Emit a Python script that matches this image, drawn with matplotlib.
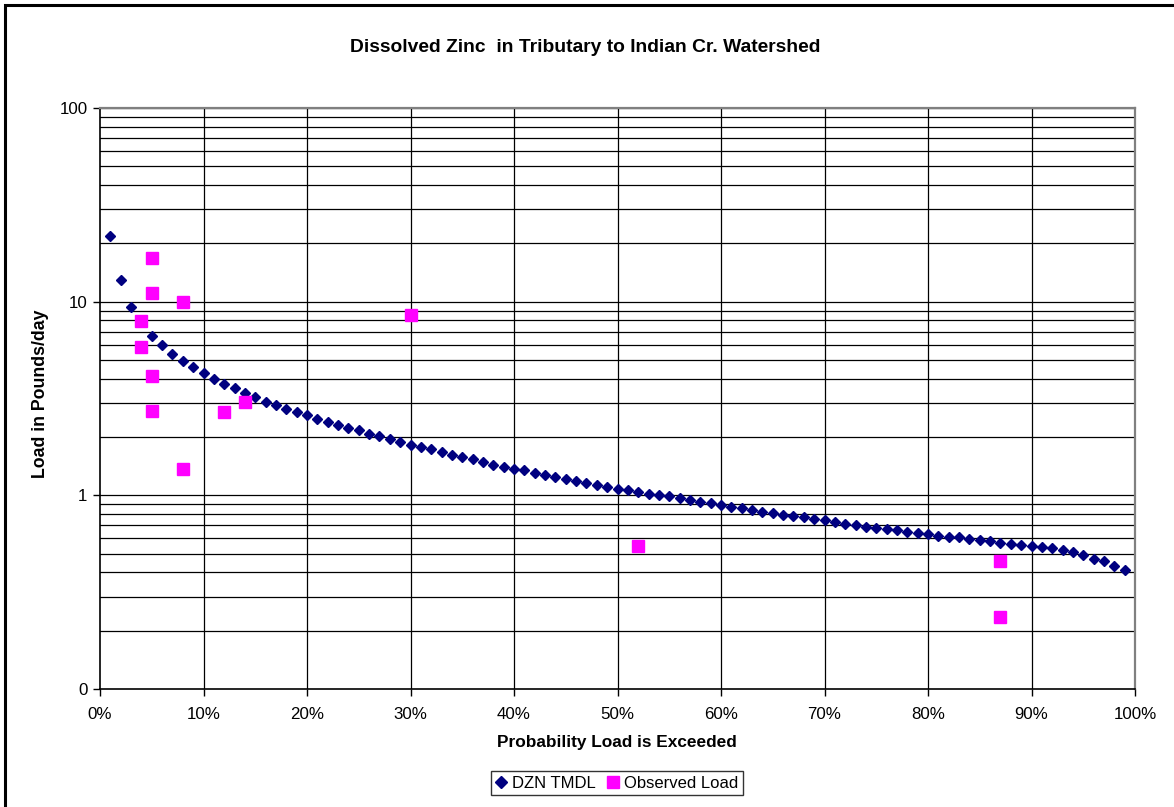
import matplotlib
matplotlib.use('Agg')
import matplotlib.pyplot as plt
from matplotlib.ticker import FixedLocator, FixedFormatter, NullLocator
from matplotlib.patches import Rectangle

plt.rcParams['font.family'] = ['Liberation Sans', 'DejaVu Sans']

# DZN TMDL curve, one point per percent exceeded (1..99)
tmdl_pct = list(range(1, 100))
tmdl_load = [
    21.9, 12.9, 9.41, 7.9, 6.62, 5.97, 5.36, 4.95, 4.58, 4.26,
    3.99, 3.75, 3.57, 3.36, 3.21, 3.03, 2.91, 2.80, 2.69, 2.59,
    2.49, 2.39, 2.32, 2.22, 2.17, 2.08, 2.02, 1.96, 1.89, 1.83,
    1.78, 1.73, 1.67, 1.62, 1.58, 1.54, 1.49, 1.44, 1.40, 1.37,
    1.35, 1.31, 1.28, 1.25, 1.22, 1.19, 1.16, 1.13, 1.11, 1.08,
    1.06, 1.04, 1.02, 1.00, 0.988, 0.968, 0.942, 0.927, 0.909, 0.887,
    0.874, 0.860, 0.840, 0.823, 0.807, 0.794, 0.782, 0.770, 0.755, 0.743,
    0.728, 0.714, 0.703, 0.688, 0.680, 0.672, 0.662, 0.649, 0.639, 0.629,
    0.619, 0.611, 0.607, 0.597, 0.588, 0.579, 0.569, 0.561, 0.554, 0.547,
    0.541, 0.533, 0.522, 0.512, 0.492, 0.467, 0.456, 0.433, 0.412,
]

# observed loads
obs_pct = [5, 5, 8, 4, 4, 5, 5, 12, 14, 8, 30, 52, 87, 87]
obs_load = [16.8, 11.1, 10.0, 7.97, 5.83, 4.14, 2.72, 2.70, 3.04, 1.36, 8.53, 0.549, 0.458, 0.236]

y_ticks = [0.1, 1, 10, 100]
y_labels = ['0', '1', '10', '100']
x_ticks = list(range(0, 101, 10))
x_labels = [f'{v}%' for v in x_ticks]

W, H = 1174, 807
fig = plt.figure(figsize=(W / 100, H / 100), dpi=100)
ax = fig.add_axes([100 / W, 1 - 689 / H, 1035 / W, 581 / H])

ax.set_yscale('log')
ax.set_ylim(0.1, 100)
ax.set_xlim(0, 100)

# horizontal grid lines at every 1..9 step of each decade
minor = [m * 10.0 ** e for e in (-1, 0, 1) for m in range(2, 10)]
for v in minor + y_ticks[1:]:
    ax.axhline(v, color='black', lw=0.9, zorder=1)
for v in x_ticks[1:-1]:
    ax.axvline(v, color='black', lw=0.9, zorder=1)

ax.plot(tmdl_pct, tmdl_load, linestyle='none', marker='D', ms=4.9,
        color='#000080', label='DZN TMDL', zorder=3)
ax.plot(obs_pct, obs_load, linestyle='none', marker='s', ms=8,
        color='#FF00FF', label='Observed Load', zorder=4)

ax.yaxis.set_major_locator(FixedLocator(y_ticks))
ax.yaxis.set_major_formatter(FixedFormatter(y_labels))
ax.yaxis.set_minor_locator(NullLocator())
ax.xaxis.set_major_locator(FixedLocator(x_ticks))
ax.xaxis.set_major_formatter(FixedFormatter(x_labels))
ax.tick_params(axis='both', direction='out', length=5, width=1, labelsize=12.2,
               color='black')
ax.tick_params(axis='x', pad=8)
ax.tick_params(axis='y', pad=4)

for side in ('left', 'bottom'):
    ax.spines[side].set_color('black')
    ax.spines[side].set_linewidth(1.2)
for side in ('top', 'right'):
    ax.spines[side].set_color('#808080')
    ax.spines[side].set_linewidth(1.6)

fig.text(585 / W, 1 - 47 / H, 'Dissolved Zinc  in Tributary to Indian Cr. Watershed',
         ha='center', va='center', fontsize=13.9, fontweight='bold')
fig.text(617 / W, 1 - 743 / H, 'Probability Load is Exceeded',
         ha='center', va='center', fontsize=12.4, fontweight='bold')
fig.text(41 / W, 1 - 394 / H, 'Load in Pounds/day', rotation=90,
         ha='center', va='center', fontsize=12.8, fontweight='bold')

leg = fig.legend(loc='center', bbox_to_anchor=(617 / W, 1 - 783 / H), ncol=2,
                 frameon=True, fancybox=False, fontsize=12, handlelength=0.7,
                 handletextpad=0.3, columnspacing=0.7, borderpad=0.28,
                 borderaxespad=0, markerscale=1.15)
leg.get_frame().set_edgecolor('black')
leg.get_frame().set_linewidth(1.0)

# outer chart border (runs off the right and bottom edges)
fig.patches.append(Rectangle((5 / W, -0.05), 1.1, 1 - 5 / H + 0.05,
                             transform=fig.transFigure, fill=False,
                             edgecolor='black', lw=2.2))

fig.savefig('out.png', dpi=100)
